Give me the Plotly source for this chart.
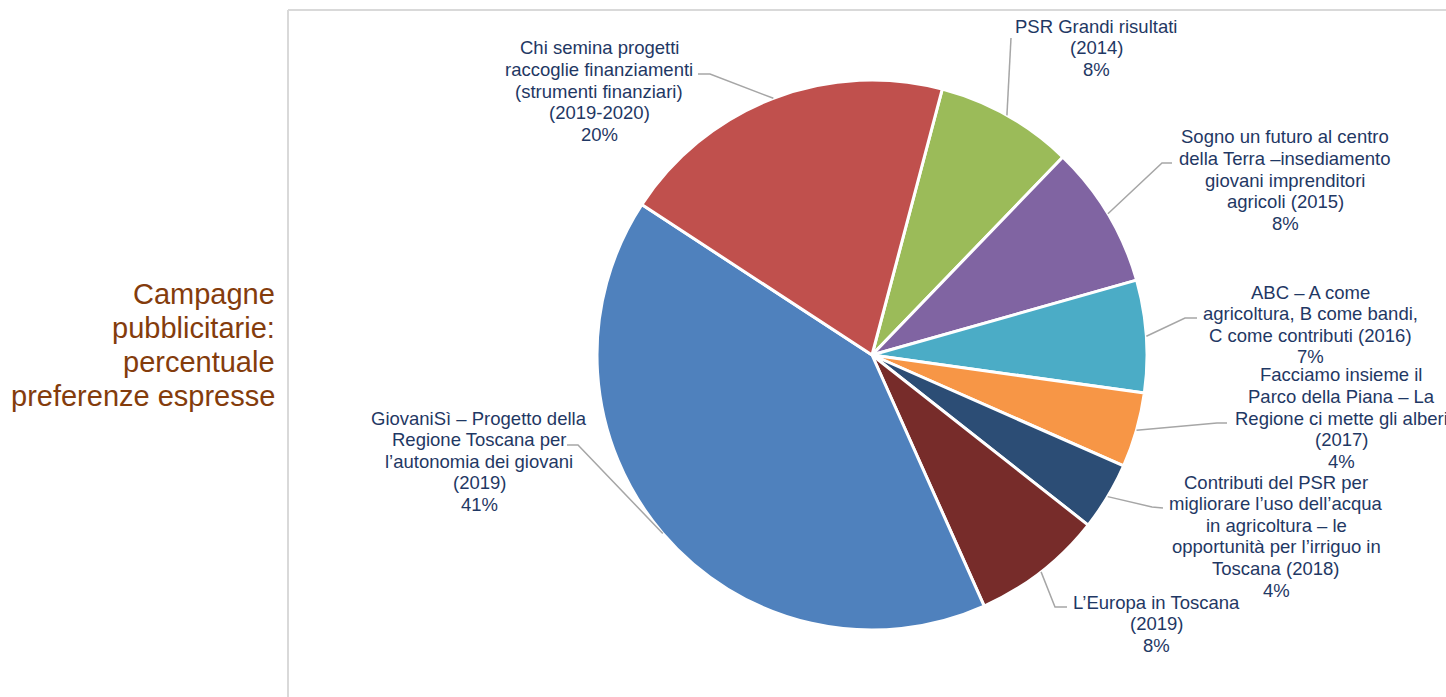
import math
import plotly.graph_objects as go

# data
categories = [
    "PSR Grandi risultati\n(2014)",
    "Sogno un futuro al centro\ndella Terra –insediamento\ngiovani imprenditori\nagricoli (2015)",
    "ABC – A come\nagricoltura, B come bandi,\nC come contributi (2016)",
    "Facciamo insieme il\nParco della Piana – La\nRegione ci mette gli alberi\n(2017)",
    "Contributi del PSR per\nmigliorare l’uso dell’acqua\nin agricoltura – le\nopportunità per l’irriguo in\nToscana (2018)",
    "L’Europa in Toscana\n(2019)",
    "GiovaniSì – Progetto della\nRegione Toscana per\nl’autonomia dei giovani\n(2019)",
    "Chi semina progetti\nraccoglie finanziamenti\n(strumenti finanziari)\n(2019-2020)",
]
values = [8.1, 8.4, 6.6, 4.4, 4.0, 7.7, 40.9, 19.9]
colors = ["#9BBB59", "#8064A2", "#4BACC6", "#F79646", "#2C4D75", "#772C2A", "#4F81BD", "#C0504D"]
title_lines = ["Campagne", "pubblicitarie:", "percentuale", "preferenze espresse"]

# layout (pixels)
W, H = 1446, 697
CX, CY, R = 872, 355, 275
ROT = 14.8
LS = 21.6
TXT = "#1F3864"
LEAD = "#A6A6A6"
# label centre x, first line y, leader points from the label side
label_pos = [
    (1096, 26, [(1011, 38)]),
    (1285, 137, [(1172, 163), (1162, 163)]),
    (1310, 292, [(1197, 318), (1185, 318)]),
    (1341, 375, [(1227, 423), (1217, 423)]),
    (1276, 482, [(1163, 508), (1152, 507)]),
    (1156, 602, [(1067, 607), (1055, 607)]),
    (479, 418, [(567, 445), (578, 445)]),
    (599, 48, [(698, 74), (710, 74)]),
]


def fx(px):
    return px / W


def fy(py):
    return 1 - py / H


fig = go.Figure(go.Pie(
    labels=[c.replace("\n", " ") for c in categories],
    values=values,
    sort=False,
    direction="clockwise",
    rotation=ROT,
    marker=dict(colors=colors, line=dict(color="white", width=3)),
    textinfo="none",
    hoverinfo="label+percent",
    showlegend=False,
    domain=dict(x=[fx(CX - R), fx(CX + R)], y=[fy(CY + R), fy(CY - R)]),
))

annotations = []
shapes = []
total = sum(values)
ang = ROT
for cat, v, (lx, ly, lead) in zip(categories, values, label_pos):
    mid = math.radians(ang + 180 * v / total)
    ang += 360 * v / total
    ax = CX + R * math.sin(mid)
    ay = CY - R * math.cos(mid)
    lines = cat.split("\n") + ["%d%%" % round(100 * v / total)]
    for i, t in enumerate(lines):
        annotations.append(dict(
            x=fx(lx), y=fy(ly + i * LS), xref="paper", yref="paper",
            text=t, showarrow=False, xanchor="center", yanchor="middle",
            font=dict(size=18.5, color=TXT),
        ))
    pts = lead + [(ax, ay)]
    path = "M " + " L ".join("%f,%f" % (fx(p[0]), fy(p[1])) for p in pts)
    shapes.append(dict(type="path", path=path, xref="paper", yref="paper",
                       line=dict(color=LEAD, width=1.5)))

for i, t in enumerate(title_lines):
    annotations.append(dict(
        x=fx(277), y=fy(294 + i * 34), xref="paper", yref="paper",
        text=t, showarrow=False, xanchor="right", yanchor="middle",
        font=dict(size=29, color="#843C0C"),
    ))

# frame
shapes.append(dict(type="line", xref="paper", yref="paper", x0=fx(288), x1=1.0,
                   y0=fy(10), y1=fy(10), line=dict(color="#D9D9D9", width=2)))
shapes.append(dict(type="line", xref="paper", yref="paper", x0=fx(288), x1=fx(288),
                   y0=fy(10), y1=0, line=dict(color="#D9D9D9", width=2)))

fig.update_layout(
    width=W, height=H,
    margin=dict(l=0, r=0, t=0, b=0),
    paper_bgcolor="white", plot_bgcolor="white",
    font=dict(family="Liberation Sans, Arial, sans-serif"),
    annotations=annotations,
    shapes=shapes,
)

fig.write_html("out.html", config={"displayModeBar": False},
               post_script="document.body.style.margin='0';document.body.style.overflow='hidden';")
